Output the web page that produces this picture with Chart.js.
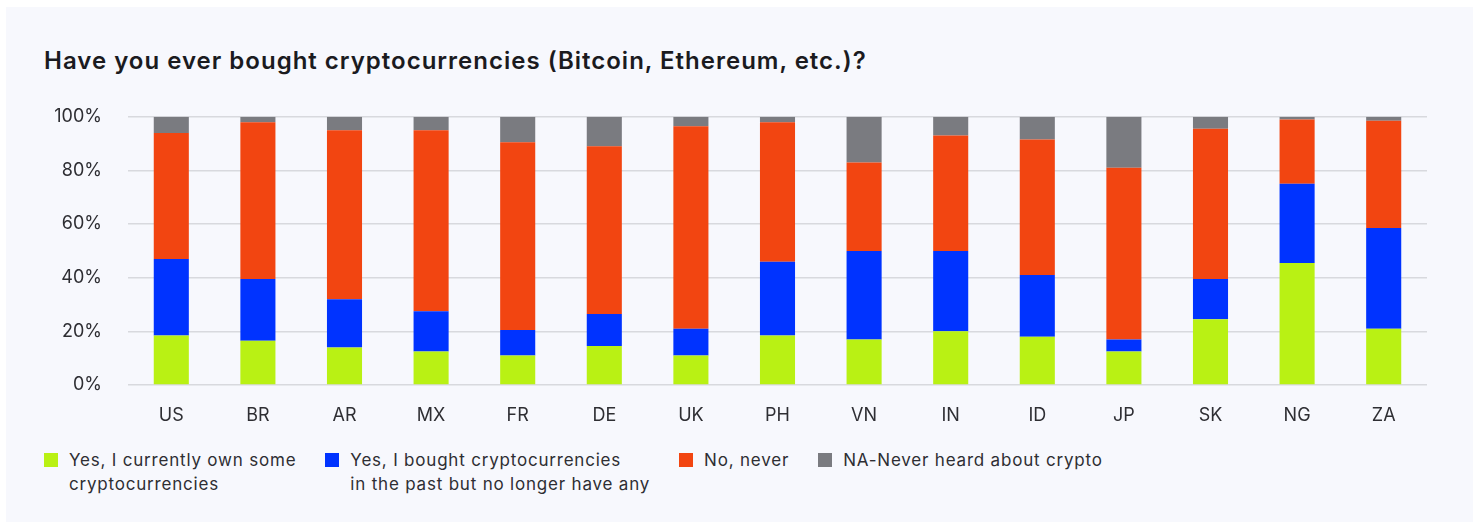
<!DOCTYPE html>
<html>
<head>
<meta charset="utf-8">
<script src="https://cdn.jsdelivr.net/npm/chart.js@4/dist/chart.umd.min.js"></script>
<style>
  html, body { margin: 0; padding: 0; background: #ffffff; }
  body { width: 1479px; height: 522px; position: relative; overflow: hidden; font-family: Inter, "Noto Sans", sans-serif; }
  .panel { position: absolute; left: 6px; top: 7px; width: 1467px; height: 515px; background: #f7f8fd; }
  .title { position: absolute; left: 38px; top: 39px; font-size: 24px; font-weight: 600; color: #1b1b1f; letter-spacing: 1px; }
  .chart-wrap { position: absolute; left: 0; top: 73px; width: 1467px; height: 350px; }
  .legend { position: absolute; left: 38px; top: 441px; display: flex; gap: 29px; font-size: 17px; color: #2e2e33; line-height: 24px; letter-spacing: 0.8px; }
  .legend .item { display: flex; align-items: flex-start; }
  .legend .box { width: 14px; height: 14px; margin-top: 5px; margin-right: 11px; flex: none; }
</style>
</head>
<body>
<div class="panel">
  <div class="title">Have you ever bought cryptocurrencies (Bitcoin, Ethereum, etc.)?</div>
  <div class="chart-wrap"><canvas id="cryptoChart"></canvas></div>
  <div class="legend" id="legend"></div>
</div>
<script>
// Countries surveyed
const countries = ['US', 'BR', 'AR', 'MX', 'FR', 'DE', 'UK', 'PH', 'VN', 'IN', 'ID', 'JP', 'SK', 'NG', 'ZA'];

// Share of respondents per answer (%)
const ownNow   = [18.5, 16.5, 14, 12.5, 11,   14.5, 11,   18.5, 17, 20, 18,   12.5, 24.5, 45.5, 21];
const ownPast  = [28.5, 23,   18, 15,   9.5,  12,   10,   27.5, 33, 30, 23,   4.5,  15,   29.5, 37.5];
const never    = [47,   58.5, 63, 67.5, 70,   62.5, 75.5, 52,   33, 43, 50.5, 64,   56,   24,   40];
const neverHeard = [6,  2,    5,  5,    9.5,  11,   3.5,  2,    17, 7,  8.5,  19,   4.5,  1,    1.5];

const seriesLabels = [
    ['Yes, I currently own some', 'cryptocurrencies'],
    ['Yes, I bought cryptocurrencies', 'in the past but no longer have any'],
    ['No, never'],
    ['NA-Never heard about crypto']
];
const seriesColors = ['#b9f114', '#0033ff', '#f24511', '#7a7b80'];

const yTicks = [0, 20, 40, 60, 80, 100];

const seriesData = [ownNow, ownPast, never, neverHeard];

const ctx = document.getElementById('cryptoChart').getContext('2d');
const cryptoChart = new Chart(ctx, {
    type: 'bar',
    data: {
        labels: countries,
        datasets: seriesData.map((values, i) => ({
            label: seriesLabels[i].join(' '),
            data: values,
            backgroundColor: seriesColors[i],
            borderWidth: 0,
            barPercentage: 0.405,
            categoryPercentage: 1
        }))
    },
    options: {
        responsive: true,
        maintainAspectRatio: false,
        animation: false,
        layout: {
            padding: { top: 0, right: 46, left: 0, bottom: 0 }
        },
        plugins: {
            legend: { display: false },
            tooltip: { enabled: false }
        },
        scales: {
            x: {
                stacked: true,
                grid: { display: false, drawTicks: false },
                border: { display: false },
                ticks: {
                    color: '#2e2e33',
                    font: { family: 'Inter', size: 18 },
                    padding: 20
                },
                afterFit: scale => { scale.height = 45; }
            },
            y: {
                stacked: true,
                min: 0,
                max: 100,
                afterBuildTicks: scale => {
                    scale.ticks = yTicks.map(v => ({ value: v }));
                },
                grid: { color: '#d8d9de', lineWidth: 1.5, drawTicks: false },
                border: { display: false },
                ticks: {
                    color: '#2e2e33',
                    font: { family: 'Inter', size: 18 },
                    padding: 26,
                    callback: v => v + '%'
                },
                afterFit: scale => { scale.width = 122; }
            }
        }
    }
});

// Legend built from the same series labels and colours
const legendEl = document.getElementById('legend');
seriesLabels.forEach((lines, i) => {
    const item = document.createElement('div');
    item.className = 'item';
    const box = document.createElement('span');
    box.className = 'box';
    box.style.background = seriesColors[i];
    const text = document.createElement('span');
    text.innerHTML = lines.join('<br>');
    item.appendChild(box);
    item.appendChild(text);
    legendEl.appendChild(item);
});
</script>
</body>
</html>
